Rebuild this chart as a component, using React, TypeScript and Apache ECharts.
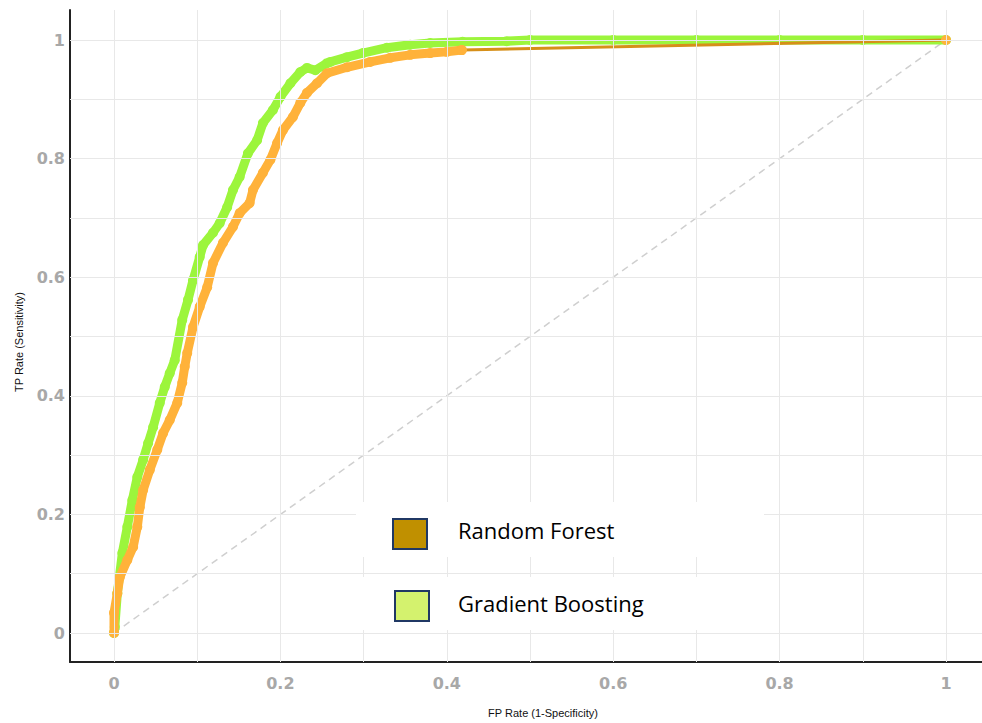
import React, { useEffect, useRef } from "react";
import * as echarts from "echarts";

// Gradient Boosting ROC points [FP rate, TP rate]
const gradientBoosting: number[][] = [
  [0, 0], [0.001, 0.01], [0.004, 0.067], [0.01, 0.135], [0.016, 0.179],
  [0.022, 0.224], [0.028, 0.263], [0.035, 0.292], [0.041, 0.32], [0.047, 0.347],
  [0.055, 0.388], [0.061, 0.415], [0.067, 0.438], [0.073, 0.46], [0.082, 0.528],
  [0.089, 0.562], [0.095, 0.595], [0.103, 0.634], [0.107, 0.654], [0.119, 0.675],
  [0.127, 0.691], [0.136, 0.718], [0.143, 0.747], [0.151, 0.769], [0.161, 0.809],
  [0.172, 0.831], [0.179, 0.86], [0.191, 0.882], [0.2, 0.904], [0.212, 0.927],
  [0.224, 0.946], [0.232, 0.953], [0.242, 0.949], [0.256, 0.961], [0.26, 0.963],
  [0.28, 0.971], [0.299, 0.978], [0.328, 0.987], [0.356, 0.992], [0.38, 0.995],
  [0.419, 0.997], [0.472, 0.998], [0.5, 1.0], [0.6, 1.0], [0.7, 1.0],
  [0.8, 1.0], [0.9, 1.0], [1, 1],
];

// Random Forest ROC points (dense part)
const randomForest: number[][] = [
  [0, 0], [0, 0.034], [0.004, 0.067], [0.007, 0.094], [0.016, 0.123],
  [0.023, 0.145], [0.028, 0.179], [0.031, 0.212], [0.035, 0.241], [0.043, 0.275],
  [0.052, 0.309], [0.059, 0.337], [0.067, 0.359], [0.076, 0.388], [0.082, 0.422],
  [0.085, 0.449], [0.088, 0.472], [0.095, 0.516], [0.103, 0.55], [0.112, 0.583],
  [0.119, 0.624], [0.131, 0.658], [0.143, 0.685], [0.151, 0.708], [0.163, 0.725],
  [0.167, 0.747], [0.179, 0.776], [0.188, 0.798], [0.196, 0.826], [0.203, 0.848],
  [0.215, 0.87], [0.224, 0.894], [0.232, 0.911], [0.244, 0.927], [0.256, 0.944],
  [0.28, 0.954], [0.308, 0.963], [0.332, 0.97], [0.356, 0.975], [0.38, 0.978],
  [0.4, 0.98], [0.418, 0.983],
];
// Random Forest final segment
const randomForestTail: number[][] = [[0.418, 0.983], [1, 1]];

// Chance diagonal
const diagonal: number[][] = [[0, 0], [1, 1]];

const gridValues = [0, 0.1, 0.2, 0.3, 0.4, 0.5, 0.6, 0.7, 0.8, 0.9, 1];
const tickLabels = [0, 0.2, 0.4, 0.6, 0.8, 1];

const legendNames = ["Random Forest", "Gradient Boosting"];
const xAxisTitle = "FP Rate (1-Specificity)";
const yAxisTitle = "TP Rate (Sensitivity)";

export default function App() {
  const ref = useRef<HTMLDivElement>(null);
  useEffect(() => {
    if (!ref.current) return;
    const chart = echarts.init(ref.current, undefined, { renderer: "svg" });
    const labelStyle = {
      color: "#a8a8a8",
      fontFamily: "DejaVu Sans",
      fontSize: 16,
      fontWeight: "bold" as const,
    };
    const gridLineData: any[] = [
      ...gridValues.map((v) => ({ xAxis: v })),
      ...gridValues.map((v) => ({ yAxis: v })),
    ];
    chart.setOption({
      animation: false,
      backgroundColor: "#ffffff",
      grid: { left: 70, right: 0, top: 10, bottom: 61 },
      xAxis: {
        type: "value",
        min: -0.0529,
        max: 1.0433,
        axisLine: { show: true, onZero: false, lineStyle: { color: "#222", width: 2 } },
        axisTick: { show: false },
        splitLine: { show: false },
        axisLabel: { ...labelStyle, margin: 13, customValues: tickLabels },
      },
      yAxis: {
        type: "value",
        min: -0.0489,
        max: 1.0506,
        axisLine: { show: true, onZero: false, lineStyle: { color: "#222", width: 2 } },
        axisTick: { show: false },
        splitLine: { show: false },
        axisLabel: { ...labelStyle, margin: 5, customValues: tickLabels },
      },
      series: [
        {
          type: "line",
          data: [],
          z: 0,
          silent: true,
          markLine: {
            silent: true,
            symbol: "none",
            label: { show: false },
            lineStyle: { color: "#e8e8e8", type: "solid", width: 1 },
            data: gridLineData,
          },
        },
        {
          type: "line",
          data: diagonal,
          z: 1,
          symbol: "none",
          silent: true,
          lineStyle: { color: "#cfcfcf", width: 1.5, type: [7, 5] },
        },
        {
          name: legendNames[1],
          type: "line",
          data: gradientBoosting,
          z: 2,
          symbol: "circle",
          symbolSize: 10,
          itemStyle: { color: "#9cf53c" },
          lineStyle: { color: "#9cf53c", width: 9, cap: "round", join: "round" },
        },
        {
          name: legendNames[0],
          type: "line",
          data: randomForestTail,
          z: 3,
          symbol: "circle",
          symbolSize: 10,
          itemStyle: { color: "#ffb23a" },
          lineStyle: { color: "#d68f19", width: 3 },
        },
        {
          name: legendNames[0],
          type: "line",
          data: randomForest,
          z: 3,
          symbol: "circle",
          symbolSize: 10,
          itemStyle: { color: "#ffb23a" },
          lineStyle: { color: "#ffb23a", width: 9, cap: "round", join: "round" },
        },
      ],
      graphic: [
        {
          type: "rect",
          z: 10,
          shape: { x: 356, y: 502, width: 408, height: 55 },
          style: { fill: "#ffffff" },
          silent: true,
        },
        {
          type: "rect",
          z: 10,
          shape: { x: 356, y: 577, width: 414, height: 53 },
          style: { fill: "#ffffff" },
          silent: true,
        },
        {
          type: "rect",
          z: 11,
          shape: { x: 393, y: 519, width: 34, height: 30 },
          style: { fill: "#c09000", stroke: "#203864", lineWidth: 2 },
        },
        {
          type: "rect",
          z: 11,
          shape: { x: 395, y: 591, width: 34, height: 30 },
          style: { fill: "#d4f26e", stroke: "#203864", lineWidth: 2 },
        },
        {
          type: "text",
          z: 11,
          x: 458,
          y: 530,
          style: {
            text: legendNames[0],
            fill: "#000",
            font: "22px 'Open Sans'",
            verticalAlign: "middle",
          },
        },
        {
          type: "text",
          z: 11,
          x: 458,
          y: 603,
          style: {
            text: legendNames[1],
            fill: "#000",
            font: "22px 'Open Sans'",
            verticalAlign: "middle",
          },
        },
        {
          type: "text",
          z: 11,
          x: 543,
          y: 713,
          style: {
            text: xAxisTitle,
            fill: "#111",
            font: "11px 'Liberation Sans'",
            align: "center",
            verticalAlign: "middle",
          },
        },
        {
          type: "text",
          z: 11,
          x: 19,
          y: 342,
          rotation: Math.PI / 2,
          style: {
            text: yAxisTitle,
            fill: "#111",
            font: "11px 'Liberation Sans'",
            align: "center",
            verticalAlign: "middle",
          },
        },
      ],
    });
    return () => chart.dispose();
  }, []);
  return (
    <div
      ref={ref}
      style={{ position: "absolute", left: 0, top: 0, width: 982, height: 723 }}
    />
  );
}
